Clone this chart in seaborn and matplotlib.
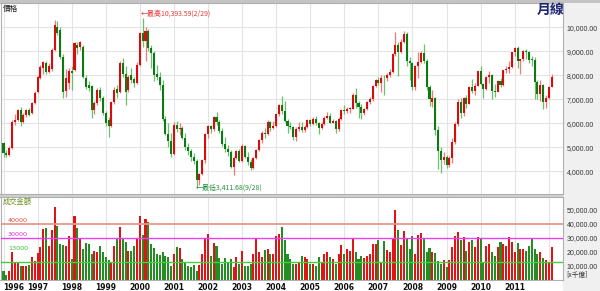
import numpy as np
import pandas as pd
import matplotlib
matplotlib.use("Agg")
import matplotlib.pyplot as plt
from matplotlib.patches import Rectangle
from matplotlib.ticker import FixedLocator, FuncFormatter
import seaborn as sns

# ---------------- data (monthly TAIEX, Jan 1996 - Feb 2012) ----------------
years = ["1996", "1997", "1998", "1999", "2000", "2001", "2002", "2003",
         "2004", "2005", "2006", "2007", "2008", "2009", "2010", "2011"]

opens = [
    5170, 4780, 4690, 4960, 6070, 6150, 6560, 6080, 6350, 6560, 6440, 6850,
    7300, 7900, 8300, 8520, 8150, 8250, 9060, 10000, 9900, 8770, 7350, 7700,
    8190, 8230, 9280, 9190, 9190, 7900, 7600, 7550, 6560, 6850, 7400, 7050,
    6420, 6150, 5900, 6880, 7450, 7300, 8500, 8080, 7400, 8000, 7850, 7700,
    8450, 9750, 9440, 9850, 9150, 8950, 8050, 7950, 7620, 6200, 5550, 5260,
    4740, 5940, 5750, 5800, 5400, 5000, 4850, 4600, 4450, 3640, 3900, 4480,
    5550, 5900, 5750, 6250, 6080, 5700, 5150, 4950, 4800, 4200, 4580, 4850,
    4450, 5050, 4600, 4400, 4150, 4550, 4900, 5300, 5600, 5550, 6050, 5800,
    5900, 6380, 6750, 6520, 6120, 5900, 5840, 5420, 5770, 5850, 5710, 5840,
    6140, 5990, 6200, 6010, 5820, 5990, 6240, 6310, 6040, 6120, 5760, 6200,
    6550, 6530, 6600, 6620, 7170, 6850, 6700, 6450, 6610, 6880, 7020, 7560,
    7820, 7700, 7900, 7880, 8000, 8150, 8880, 9290, 8980, 9410, 9710, 8590,
    8510, 7520, 8410, 8570, 8920, 8620, 7520, 6900, 7050, 5720, 4870, 4460,
    4590, 4250, 4560, 5210, 5990, 6890, 6430, 7080, 6830, 7510, 7340, 7580,
    8190, 7640, 7440, 7920, 8000, 7370, 7330, 7760, 7620, 8240, 8290, 8370,
    8970, 9150, 8600, 8680, 9010, 8990, 8650, 8640, 7740, 7230, 7590, 6900,
    7070, 7520]
highs = [
    5230, 4900, 5050, 6150, 6400, 6620, 6680, 6420, 6620, 6650, 6900, 7350,
    8000, 8450, 8620, 8600, 8500, 9150, 10300, 10256, 10000, 8900, 8250, 8300,
    8400, 9400, 9380, 9450, 9250, 8000, 7750, 7600, 6950, 7480, 7500, 7150,
    6500, 6250, 6950, 7500, 7600, 8600, 8730, 8400, 8000, 8320, 7950, 8550,
    9800, 10394, 10000, 9950, 9250, 9000, 8440, 8150, 7810, 6300, 6000, 5600,
    6050, 6100, 6000, 5900, 5600, 5200, 4950, 4750, 4500, 3950, 4520, 5600,
    5950, 5950, 6300, 6484, 6150, 5800, 5450, 5100, 4900, 4650, 4900, 4950,
    5150, 5100, 4800, 4500, 4620, 4950, 5350, 5700, 5800, 6150, 6100, 6100,
    6450, 6800, 7135, 6950, 6200, 6050, 5900, 5850, 6050, 6050, 5950, 6200,
    6200, 6250, 6300, 6050, 6050, 6300, 6480, 6430, 6200, 6150, 6250, 6600,
    6750, 6700, 6700, 7250, 7476, 6950, 6800, 6650, 6950, 7100, 7600, 7850,
    7950, 8000, 8000, 8100, 8250, 8950, 9810, 9400, 9500, 9860, 9800, 8750,
    8550, 8450, 8980, 9000, 9310, 8700, 7600, 7380, 7100, 5900, 5000, 4800,
    4700, 4650, 5400, 6050, 7000, 7080, 7110, 7190, 7580, 7850, 7700, 8200,
    8400, 7700, 7960, 8190, 8050, 7650, 7800, 7900, 8240, 8400, 8600, 8990,
    9200, 9230, 8700, 9050, 9100, 9000, 8800, 8750, 7800, 7800, 7650, 7200,
    7550, 8050]
lows = [
    4620, 4600, 4660, 4950, 5950, 6100, 5900, 6000, 6280, 6300, 6380, 6800,
    7250, 7850, 8050, 8050, 8100, 8200, 9000, 9700, 8700, 7060, 7100, 7450,
    7380, 8200, 8900, 9050, 7900, 7450, 7350, 6220, 6400, 6750, 6950, 6350,
    5880, 5420, 5850, 6800, 7050, 7250, 7950, 6780, 7300, 7700, 7500, 7650,
    8400, 9200, 8600, 9000, 8300, 7750, 7800, 7400, 6100, 5500, 5000, 4600,
    4680, 5650, 5500, 5350, 4900, 4700, 4450, 4300, 3412, 3450, 3850, 4350,
    5400, 5600, 5700, 5950, 5600, 5050, 4800, 4650, 4150, 3850, 4500, 4400,
    4400, 4550, 4250, 4044, 4100, 4500, 4850, 5200, 5400, 5500, 5700, 5750,
    5850, 6300, 6400, 6050, 5600, 5750, 5300, 5255, 5700, 5650, 5650, 5800,
    5900, 5950, 5950, 5570, 5750, 5950, 6200, 6000, 6000, 5620, 5700, 6150,
    6400, 6450, 6450, 6600, 6650, 6230, 6200, 6350, 6550, 6800, 6950, 7500,
    7600, 7300, 7200, 7780, 7950, 8100, 8800, 7990, 8950, 9350, 8400, 7800,
    7380, 7400, 7900, 8500, 8500, 7400, 6710, 6700, 5530, 4110, 3955, 4300,
    4160, 4180, 4350, 5150, 5900, 6220, 6300, 6630, 6800, 7280, 7200, 7550,
    7600, 7080, 7400, 7700, 7030, 7100, 7300, 7500, 7560, 8100, 8100, 8300,
    8800, 8300, 8070, 8600, 8700, 8500, 8400, 7000, 7000, 6950, 6600, 6650,
    7000, 7500]
closes = [
    4770, 4690, 4960, 6070, 6150, 6560, 6080, 6350, 6560, 6360, 6850, 7280,
    7950, 8370, 8560, 8150, 8400, 9060, 10100, 9780, 8770, 7310, 7900, 8190,
    8100, 9350, 9150, 9400, 7950, 7520, 7480, 6560, 6850, 7400, 7050, 6420,
    6000, 5880, 6880, 7400, 7250, 8500, 8050, 7320, 7940, 7820, 7700, 8450,
    9750, 9440, 9850, 9150, 8950, 8000, 7950, 7620, 6200, 5550, 5260, 4740,
    5940, 5750, 5800, 5400, 5000, 4850, 4600, 4450, 3640, 3900, 4480, 5550,
    5900, 5750, 6250, 6080, 5700, 5150, 4950, 4800, 4200, 4580, 4850, 4450,
    5050, 4600, 4400, 4150, 4550, 4900, 5300, 5600, 5550, 6050, 5800, 5900,
    6380, 6750, 6520, 6120, 5900, 5840, 5420, 5770, 5850, 5710, 5840, 6140,
    5990, 6200, 6010, 5820, 5990, 6240, 6310, 6040, 6120, 5760, 6200, 6550,
    6530, 6600, 6620, 7170, 6850, 6700, 6450, 6610, 6880, 7020, 7560, 7820,
    7700, 7900, 7880, 8000, 8150, 8880, 9290, 8980, 9410, 9710, 8590, 8510,
    7520, 8410, 8570, 8920, 8620, 7520, 7020, 7050, 5720, 4870, 4460, 4590,
    4250, 4560, 5210, 5990, 6890, 6430, 7080, 6830, 7510, 7340, 7580, 8190,
    7640, 7440, 7920, 8000, 7370, 7330, 7760, 7620, 8240, 8290, 8370, 8970,
    9150, 8600, 8680, 9010, 8990, 8650, 8640, 7740, 7230, 7590, 6900, 7070,
    7520, 7950]
volumes = [
    6400, 2900, 6400, 20000, 11900, 12400, 10000, 9300, 10000, 10500, 16400, 12900,
    18600, 23600, 36200, 36700, 24300, 35700, 51700, 38600, 25500, 24800, 24300, 31400,
    14800, 45700, 36700, 29500, 21900, 26200, 25500, 18300, 20700, 20000, 24300, 19500,
    15900, 13600, 12000, 24300, 29500, 37400, 29500, 27100, 20700, 20700, 24300, 29500,
    45700, 31900, 43300, 41000, 25500, 22400, 18300, 17600, 19500, 17100, 15900, 10000,
    18300, 23100, 22400, 14800, 11900, 9500, 9000, 10500, 6400, 10500, 18300, 29000,
    32600, 17100, 25900, 24300, 15500, 11200, 15200, 12400, 14800, 8800, 15900, 11200,
    20200, 10000, 10000, 11200, 18300, 29000, 19500, 15900, 21000, 21500, 18300, 18300,
    31000, 32600, 37400, 27900, 18300, 14800, 11200, 11200, 12000, 17100, 15900, 14800,
    11200, 11200, 10000, 15900, 12400, 18300, 19800, 15900, 14800, 11200, 18300, 25000,
    18300, 21900, 20700, 29000, 19500, 14800, 16500, 15500, 16500, 18300, 25700, 25700,
    28000, 12000, 27600, 21000, 20000, 29000, 50000, 35700, 24800, 35000, 29000, 21900,
    31000, 18300, 31900, 33300, 29500, 20000, 22400, 19500, 19000, 12900, 11200, 14300,
    8800, 13600, 23100, 31400, 34300, 28600, 30200, 20700, 26700, 27900, 23100, 30200,
    29500, 12400, 23800, 25500, 20000, 16600, 23100, 26700, 25500, 24300, 30200, 26700,
    19500, 26200, 21900, 21900, 20700, 24300, 29500, 21900, 18300, 19500, 15200, 13600,
    12800, 23100]

price_ticks = [4000, 5000, 6000, 7000, 8000, 9000, 10000]
volume_ticks = [10000, 20000, 30000, 40000, 50000]
ref_levels = [40000, 30000, 12500]
ref_labels = ["40000", "30000", "13000"]
high_label = "←最高10,393.59(2/29)"
low_label = "←最低3,411.68(9/28)"

# ---------------- figure ----------------
sns.set_theme(style="white")
CJK = ["Noto Sans CJK TC", "DejaVu Sans"]
NUM = ["Liberation Sans", "DejaVu Sans"]
plt.rcParams["font.family"] = ["DejaVu Sans", "Noto Sans CJK TC"]

W, H = 600, 291
fig = plt.figure(figsize=(W / 100, H / 100), dpi=100)
fig.patch.set_facecolor("white")


def rect(x0, y0, x1, y1):
    return [x0 / W, 1 - y1 / H, (x1 - x0) / W, (y1 - y0) / H]


# right grey strip + panel separators (behind the axes)
for (x0, y0, w, h, c) in [(563, 0, 37, H, "#f0f0f0"),
                          (0, 0, W, 2.5, "#c4c4c4"),
                          (0, 194, 563, 3, "#cfcfcf")]:
    fig.patches.append(Rectangle((x0 / W, 1 - (y0 + h) / H), w / W, h / H,
                                 transform=fig.transFigure, facecolor=c,
                                 edgecolor="none", zorder=-5))

ax = fig.add_axes(rect(0.5, 3, 563, 194))
axv = fig.add_axes(rect(0.5, 197, 563, 279.5))

n = len(closes)
df = pd.DataFrame({"idx": np.arange(n), "open": opens, "high": highs, "low": lows,
                   "close": closes, "vol": volumes})
df["dir"] = np.where(df["close"] >= df["open"], "up", "down")

body_col = {"up": "#dc0b0b", "down": "#0c7a12"}
wick_col = {"up": "#f07a7a", "down": "#6cbf6c"}
vol_col = {"up": "#e01414", "down": "#238c23"}

xmin, xmax = (0.5 - 3.5) / 2.84, (563 - 3.5) / 2.84
year_pos = [12 * k for k in range(len(years) + 1)]

# ---- price panel ----
ax.set_facecolor("white")
ax.set_xlim(xmin, xmax)
ax.set_ylim(3062, 11020)
for v in range(3000, 12000, 1000):
    ax.axhline(v, color="#e4e4e4", lw=0.8, zorder=0)
for p in year_pos:
    ax.axvline(p, color="#e4e4e4", lw=0.8, zorder=0)

ax.vlines(df["idx"], df["low"], df["high"], colors=[wick_col[d] for d in df["dir"]],
          lw=0.9, zorder=2)
body_h = np.maximum((df["close"] - df["open"]).abs(), 30)
ax.bar(df["idx"], body_h, bottom=np.minimum(df["open"], df["close"]), width=0.72,
       color=[body_col[d] for d in df["dir"]], linewidth=0, zorder=3)

ax.yaxis.tick_right()
ax.yaxis.set_major_locator(FixedLocator(price_ticks))
ax.yaxis.set_major_formatter(FuncFormatter(lambda v, p: f"{v:,.2f}"))
ax.tick_params(axis="y", length=0, pad=2.5, labelsize=5.0, colors="#333333")
for t in ax.get_yticklabels():
    t.set_family(NUM)
ax.set_xticks([])
for s in ax.spines.values():
    s.set_color("#b0b0b0")
    s.set_linewidth(0.8)

ax.text(0.004, 0.99, "價格", transform=ax.transAxes, ha="left", va="top",
        fontsize=5.5, color="#222222", family=CJK)
i_hi = int(np.argmax(highs))
i_lo = int(np.argmin(lows))
ax.text(i_hi - 0.6, 10560, high_label, ha="left", va="center", fontsize=5,
        color="#e53935", family=CJK)
ax.text(i_lo - 0.3, 3312, low_label, ha="left", va="center", fontsize=5,
        color="#1f8f3a", family=CJK)
fig.text(537 / W, 1 - 9.5 / H, "月線", ha="left", va="center", fontsize=10,
         fontweight="bold", color="#1c2670", family=CJK)

# ---- volume panel ----
axv.set_facecolor("white")
for p in year_pos:
    axv.axvline(p, color="#e4e4e4", lw=0.8, zorder=0)
sns.barplot(data=df, x="idx", y="vol", hue="dir", palette=vol_col, dodge=False,
            native_scale=True, width=0.72, legend=False, ax=axv, linewidth=0,
            saturation=1, zorder=2)
axv.set_xlim(xmin, xmax)
axv.set_ylim(0, 59000)
ref_colors = ["#e9998a", "#ee3fee", "#3fd23f"]
ref_text_colors = ["#e04a3a", "#d030d0", "#30c030"]
for lvl, c in zip(ref_levels, ref_colors):
    axv.axhline(lvl, color=c, lw=1.3 if lvl == 40000 else 1.0, zorder=3)
ax_lab_y = [42500, 32500, 22500]
for y, lab, tc in zip(ax_lab_y, ref_labels, ref_text_colors):
    axv.text(1.5, y, lab, fontsize=4.6, color=tc, ha="left", va="center", zorder=4)
axv.text(0.004, 0.985, "成交金額", transform=axv.transAxes, ha="left", va="top",
         fontsize=5.2, color="#6f8f1f", family=CJK)

axv.yaxis.tick_right()
axv.yaxis.set_major_locator(FixedLocator(volume_ticks))
axv.yaxis.set_major_formatter(FuncFormatter(lambda v, p: f"{v:,.2f}"))
axv.tick_params(axis="y", length=0, pad=2.5, labelsize=5.0, colors="#333333")
for t in axv.get_yticklabels():
    t.set_family(NUM)
axv.set_xticks(year_pos[:-1])
axv.set_xticklabels(years)
axv.tick_params(axis="x", length=0, pad=2.5, labelsize=5.5, colors="#111111")
for t in axv.get_xticklabels():
    t.set_fontweight("bold")
axv.get_xticklabels()[0].set_ha("left")
axv.set_xlabel("")
axv.set_ylabel("")
for s in axv.spines.values():
    s.set_color("#b0b0b0")
    s.set_linewidth(0.8)
fig.text(566 / W, 1 - 274.5 / H, "[x千億]", ha="left", va="center", fontsize=4.8,
         color="#333333", family=CJK)

fig.savefig("out.png", dpi=100, facecolor=fig.get_facecolor())
